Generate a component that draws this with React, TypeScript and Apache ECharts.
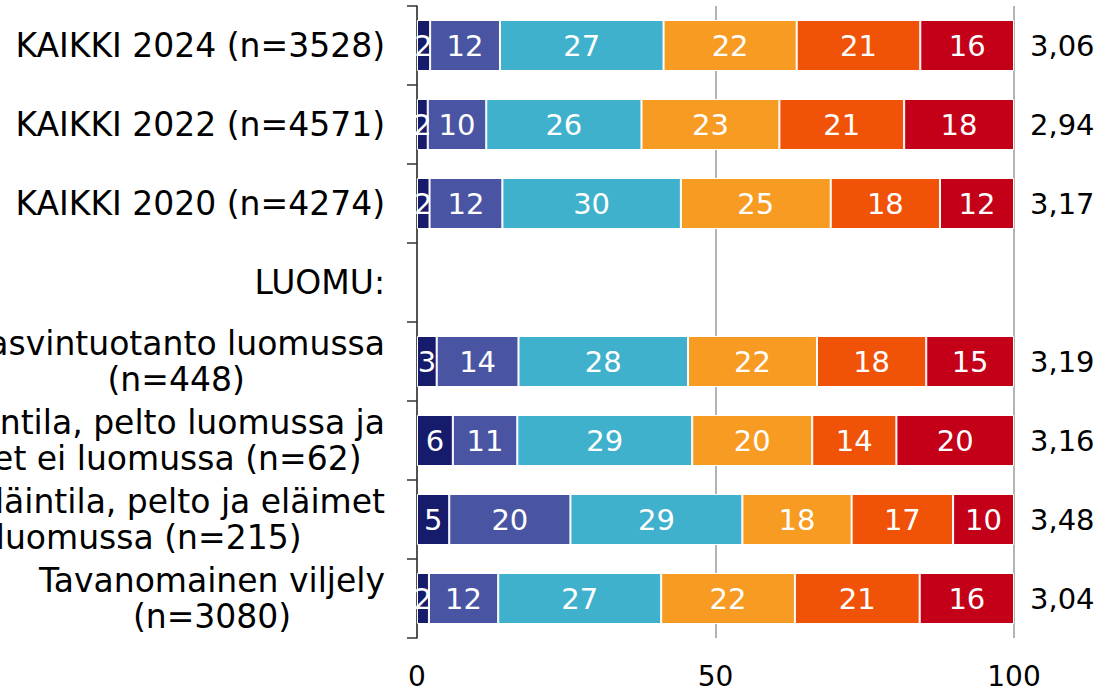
import React, { useEffect, useRef } from "react";
import * as echarts from "echarts";

const categories: string[] = [
  "KAIKKI 2024 (n=3528)",
  "KAIKKI 2022 (n=4571)",
  "KAIKKI 2020 (n=4274)",
  "LUOMU:",
  "Kasvintuotanto luomussa\n(n=448)",
  "Kotieläintila, pelto luomussa ja\neläimet ei luomussa (n=62)",
  "Kotieläintila, pelto ja eläimet\nluomussa (n=215)",
  "Tavanomainen viljely\n(n=3080)",
];

const means: string[] = ["3,06", "2,94", "3,17", "", "3,19", "3,16", "3,48", "3,04"];

const s1: (number | null)[] = [2.2, 1.8, 2.1, null, 3.3, 6.0, 5.4, 2.0];
const s2: (number | null)[] = [11.7, 9.8, 12.2, null, 13.7, 10.8, 20.3, 11.6];
const s3: (number | null)[] = [27.4, 26.0, 29.9, null, 28.4, 29.3, 28.8, 27.3];
const s4: (number | null)[] = [22.3, 23.1, 25.1, null, 21.6, 20.1, 18.3, 22.4];
const s5: (number | null)[] = [20.7, 20.9, 18.3, null, 18.3, 14.1, 17.0, 20.9];
const s6: (number | null)[] = [15.7, 18.4, 12.4, null, 14.7, 19.7, 10.2, 15.8];

const seriesNames: string[] = ["1", "2", "3", "4", "5", "6"];
const seriesData = [s1, s2, s3, s4, s5, s6];
const colors: string[] = ["#161B6B", "#4955A3", "#40B1CD", "#F79B22", "#F05308", "#C40019"];

const xTicks = { min: 0, max: 100, interval: 50 };

const FONT = "'DejaVu Sans', Verdana, sans-serif";

export default function App() {
  const ref = useRef<HTMLDivElement>(null);
  useEffect(() => {
    if (!ref.current) return;
    const chart = echarts.init(ref.current, null, { renderer: "svg" });
    chart.setOption({
      animation: false,
      grid: {
        left: 417,
        right: 87,
        top: 6,
        bottom: 52,
        containLabel: false,
        outerBoundsMode: "none",
      },
      xAxis: {
        type: "value",
        min: xTicks.min,
        max: xTicks.max,
        interval: xTicks.interval,
        axisLine: { show: false },
        axisTick: { show: false },
        axisLabel: { fontSize: 28, color: "#000", fontFamily: FONT, margin: 24 },
        splitLine: { show: true, lineStyle: { color: "#B4B4B4", width: 2 } },
      },
      yAxis: [
        {
          type: "category",
          inverse: true,
          data: categories,
          axisLine: { show: true, lineStyle: { color: "#333333", width: 1.5 } },
          axisTick: { show: true, length: 10, lineStyle: { color: "#333333", width: 1.5 } },
          axisLabel: {
            interval: 0,
            margin: 32,
            align: "right",
            formatter: (v: string) =>
              v
                .split("\n")
                .map((l) => `{c|${l}}`)
                .join("\n"),
            rich: {
              c: {
                align: "center",
                fontSize: 33,
                lineHeight: 36,
                fontFamily: FONT,
                color: "#000",
              },
            },
          },
        },
        {
          type: "category",
          inverse: true,
          position: "right",
          data: means,
          axisLine: { show: false },
          axisTick: { show: false },
          axisLabel: { interval: 0, margin: 16, fontSize: 29, color: "#000", fontFamily: FONT },
        },
      ],
      series: seriesData.map((d, i) => ({
        name: seriesNames[i],
        type: "bar",
        stack: "total",
        yAxisIndex: 0,
        barWidth: 51,
        data: d,
        itemStyle: { color: colors[i], borderColor: "#FFFFFF", borderWidth: 1 },
        label: {
          show: true,
          position: "inside",
          color: "#FFFFFF",
          fontSize: 29,
          fontFamily: FONT,
          formatter: (p: any) => (p.value == null ? "" : String(Math.round(p.value))),
        },
      })),
    });
    return () => chart.dispose();
  }, []);
  return (
    <div
      ref={ref}
      style={{ position: "fixed", left: 0, top: 0, width: 1101, height: 690, background: "#fff" }}
    />
  );
}
